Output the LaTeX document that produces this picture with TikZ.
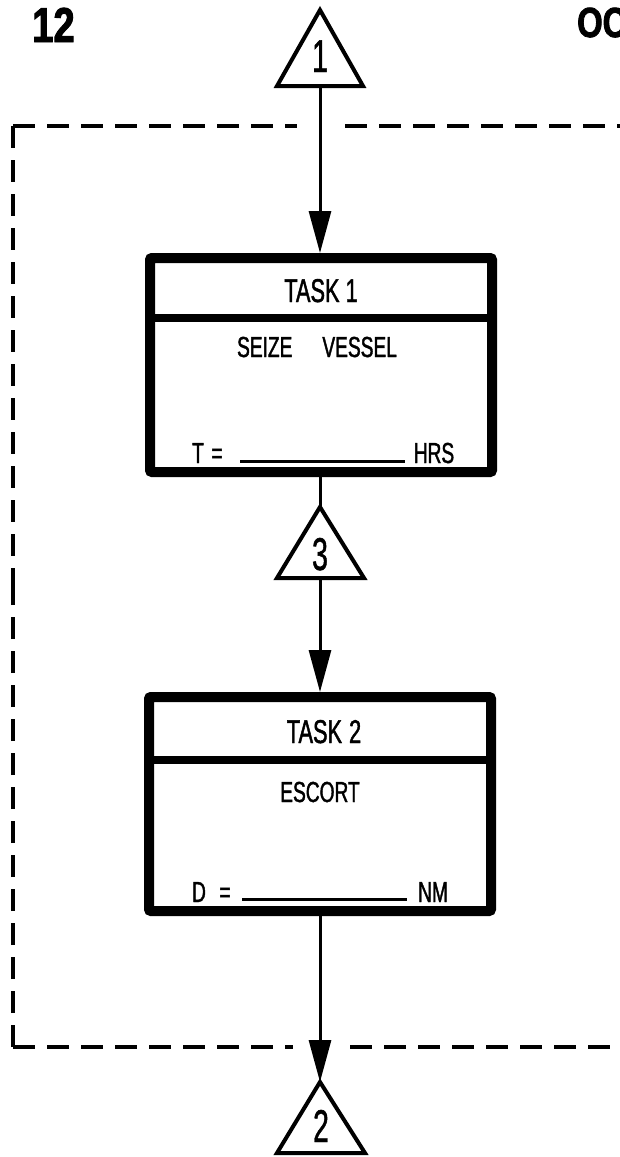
\documentclass[tikz,border=0pt]{standalone}
\usepackage{fontspec}
\setmainfont{Liberation Sans}
\newfontfamily\condfont[FakeStretch=0.66,FakeBold=1.3]{Liberation Sans}
\newfontfamily\digitfont[FakeStretch=0.62,FakeBold=1]{Liberation Sans}
\newfontfamily\pagefont[FakeStretch=0.78,FakeBold=2]{Liberation Sans Bold}
\usetikzlibrary{arrows.meta}
\tikzset{
  taskbox/.style={draw, line width=10pt, rounded corners=2pt, minimum width=342pt, minimum height=214pt, inner sep=0pt},
  divider/.style={line width=8pt},
  conn/.style={line width=3pt},
  arr/.style={conn, -{Triangle[length=42pt,width=22pt]}},
  tri/.style={line width=4pt, line join=miter},
  frame/.style={line width=4pt, dash pattern=on 22pt off 12pt},
  headtxt/.style={font=\condfont\fontsize{33}{33}\selectfont, anchor=base, inner sep=0pt},
  bodytxt/.style={font=\condfont\fontsize{29}{29}\selectfont, anchor=base, inner sep=0pt},
  numtxt/.style={font=\digitfont\fontsize{46}{46}\selectfont, anchor=base, inner sep=0pt},
  blank/.style={line width=3pt},
}
\begin{document}
\begin{tikzpicture}[x=1pt,y=-1pt]
\useasboundingbox (0,0) rectangle (619,1157);
% page marks
\node[font=\pagefont\fontsize{49}{49}\selectfont, anchor=base west, inner sep=0pt] (pg) at (32,42) {12};
\node[font=\pagefont\fontsize{42}{42}\selectfont, anchor=base west, inner sep=0pt] (oc) at (577,37) {OC};
% dashed frame
\draw[frame] (13,126) -- (297,126);
\draw[frame] (345,126) -- (660,126);
\draw[frame] (13,126) -- (13,590);
\draw[frame] (13,1047) -- (13,590);
\draw[frame] (13,1047) -- (293,1047);
\draw[frame] (350,1047) -- (660,1047);
% triangle 1
\coordinate (t1apex) at (320,10);
\coordinate (t1base) at (320,86);
\draw[tri] (t1apex) -- (277,86) -- (363,86) -- cycle;
\node[numtxt] (n1) at (320,72) {1};
% box 1
\node[taskbox] (b1) at (321,365) {};
\draw[divider] (b1.west |- 0,318) -- (b1.east |- 0,318);
\node[headtxt] (task1) at (321,302) {TASK 1};
\node[bodytxt] (seize) at (317,357) {SEIZE\hspace{30pt}VESSEL};
\node[bodytxt] (tlab) at (198,463) {T};
\node[bodytxt] (teq) at (217,463) {=};
\coordinate (tl0) at (240,461);
\coordinate (tl1) at (405,461);
\draw[blank] (tl0) -- (tl1);
\node[bodytxt] (hrs) at (434,463) {HRS};
% triangle 3
\coordinate (t3apex) at (320,507);
\coordinate (t3base) at (320,578);
\draw[tri] (t3apex) -- (277,578) -- (364,578) -- cycle;
\node[numtxt] (n3) at (320,570) {3};
% box 2
\node[taskbox] (b2) at (320,804) {};
\draw[divider] (b2.west |- 0,760) -- (b2.east |- 0,760);
\node[headtxt] (task2) at (324,743) {TASK\hspace{7pt}2};
\node[bodytxt] (escort) at (320,802) {ESCORT};
\node[bodytxt] (dlab) at (199,902) {D};
\node[bodytxt] (deq) at (225,902) {=};
\coordinate (dl0) at (242,899);
\coordinate (dl1) at (407,899);
\draw[blank] (dl0) -- (dl1);
\node[bodytxt] (nm) at (433,902) {NM};
% triangle 2
\coordinate (t2apex) at (320,1082);
\draw[tri] (t2apex) -- (277,1153) -- (365,1153) -- cycle;
\node[numtxt] (n2) at (321,1142) {2};
% connectors
\draw[arr] (t1base) -- (b1.north -| t1base);
\draw[conn] (b1.south -| t3apex) -- (t3apex);
\draw[arr] (t3base) -- (b2.north -| t3base);
\draw[arr] (b2.south -| t2apex) -- (t2apex);
\end{tikzpicture}
\end{document}
